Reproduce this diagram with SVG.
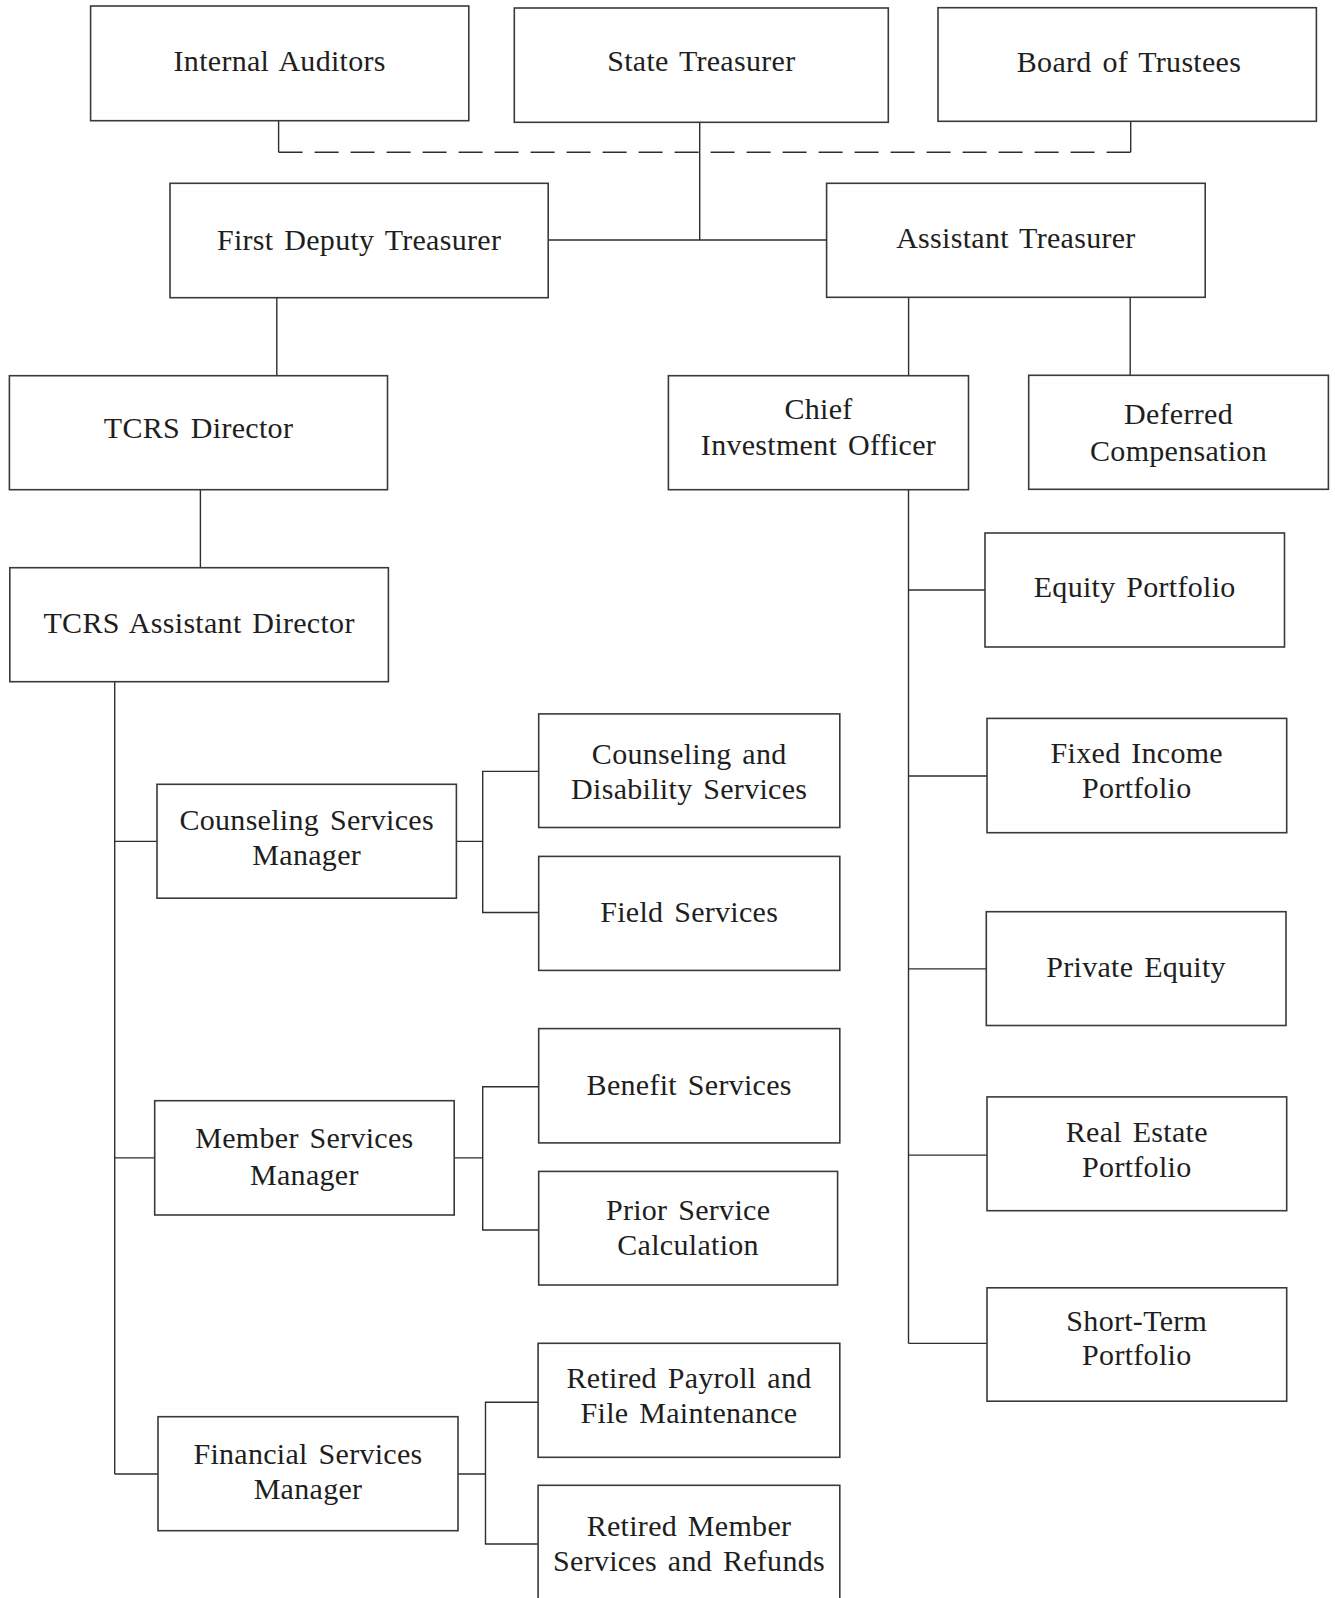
<svg xmlns="http://www.w3.org/2000/svg" width="1335" height="1598" viewBox="0 0 1335 1598">
<style>
.box{fill:#fff;stroke:#3a3a3a;stroke-width:1.6}
.lbl{font-family:"Liberation Serif",serif;font-size:30px;fill:#1e1e1e;text-anchor:middle;letter-spacing:0.3px;word-spacing:3px}
.con{fill:none;stroke:#2e2e2e;stroke-width:1.4}
.dash{fill:none;stroke:#2e2e2e;stroke-width:1.4;stroke-dasharray:24 12}
</style>
<rect width="1335" height="1598" fill="#fff"/>
<g id="connectors">
<path class="con" d="M278.6 120.7V152.3M1130.7 121.3V152.3"/>
<path class="dash" d="M278.6 152.3H1130.7"/>
<path class="con" d="M699.7 122.3V240M548.2 240H826.6"/>
<path class="con" d="M276.8 297.7V375.7M908.6 297.3V375.7M1130.2 297.3V375.3M200.4 489.7V567.7"/>
<path class="con" d="M908.5 489.7V1343.4M908.5 590H985M908.5 776H987M908.5 968.9H986.3M908.5 1155.1H987M908.5 1343.4H987"/>
<path class="con" d="M114.7 681.7V1474M114.7 841.4H157M114.7 1157.9H154.7M114.7 1474H158"/>
<path class="con" d="M456.4 841.4H482.7M538.7 771.4H482.7V912.5H538.7"/>
<path class="con" d="M454.2 1157.9H482.7M538.7 1086.8H482.7V1230H538.7"/>
<path class="con" d="M458 1474H485.5M538.1 1402.3H485.5V1544H538.1"/>
</g>
<g id="internal-auditors"><rect class="box" x="90.6" y="6" width="378.2" height="114.7"/><text class="lbl" x="279.7" y="70.7">Internal Auditors</text></g>
<g id="state-treasurer"><rect class="box" x="514.3" y="8" width="374" height="114.3"/><text class="lbl" x="701.3" y="70.7">State Treasurer</text></g>
<g id="board-of-trustees"><rect class="box" x="938" y="7.7" width="378.4" height="113.6"/><text class="lbl" x="1129" y="71.7">Board of Trustees</text></g>
<g id="first-deputy-treasurer"><rect class="box" x="170" y="183.3" width="378.2" height="114.4"/><text class="lbl" x="359.1" y="250">First Deputy Treasurer</text></g>
<g id="assistant-treasurer"><rect class="box" x="826.6" y="183.3" width="378.6" height="114"/><text class="lbl" x="1015.9" y="248.3">Assistant Treasurer</text></g>
<g id="tcrs-director"><rect class="box" x="9.4" y="375.7" width="378.1" height="114"/><text class="lbl" x="198.5" y="438.3">TCRS Director</text></g>
<g id="chief-investment-officer"><rect class="box" x="668.4" y="375.7" width="300.1" height="114"/><text class="lbl" x="818.5" y="419.3">Chief</text><text class="lbl" x="818.5" y="455">Investment Officer</text></g>
<g id="deferred-compensation"><rect class="box" x="1028.7" y="375.3" width="299.7" height="114"/><text class="lbl" x="1178.5" y="424.3">Deferred</text><text class="lbl" x="1178.5" y="460.7">Compensation</text></g>
<g id="tcrs-assistant-director"><rect class="box" x="9.8" y="567.7" width="378.6" height="114"/><text class="lbl" x="199.1" y="632.7">TCRS Assistant Director</text></g>
<g id="equity-portfolio"><rect class="box" x="985" y="533" width="299.5" height="114"/><text class="lbl" x="1134.7" y="596.7">Equity Portfolio</text></g>
<g id="fixed-income-portfolio"><rect class="box" x="987" y="718.4" width="299.7" height="114.3"/><text class="lbl" x="1136.8" y="763.3">Fixed Income</text><text class="lbl" x="1136.8" y="798">Portfolio</text></g>
<g id="private-equity"><rect class="box" x="986.3" y="911.7" width="299.7" height="113.8"/><text class="lbl" x="1136.1" y="976.5">Private Equity</text></g>
<g id="real-estate-portfolio"><rect class="box" x="987" y="1096.9" width="299.7" height="113.8"/><text class="lbl" x="1136.8" y="1142.3">Real Estate</text><text class="lbl" x="1136.8" y="1177">Portfolio</text></g>
<g id="short-term-portfolio"><rect class="box" x="987" y="1287.8" width="299.7" height="113.4"/><text class="lbl" x="1136.8" y="1331">Short-Term</text><text class="lbl" x="1136.8" y="1365.3">Portfolio</text></g>
<g id="counseling-services-manager"><rect class="box" x="157" y="784.3" width="299.4" height="113.9"/><text class="lbl" x="306.7" y="830.4">Counseling Services</text><text class="lbl" x="306.7" y="865">Manager</text></g>
<g id="counseling-disability-services"><rect class="box" x="538.7" y="713.9" width="301.1" height="113.6"/><text class="lbl" x="689.2" y="764.3">Counseling and</text><text class="lbl" x="689.2" y="798.9">Disability Services</text></g>
<g id="field-services"><rect class="box" x="538.7" y="856.4" width="301.1" height="114"/><text class="lbl" x="689.2" y="922.1">Field Services</text></g>
<g id="member-services-manager"><rect class="box" x="154.7" y="1100.7" width="299.5" height="114.3"/><text class="lbl" x="304.4" y="1148.2">Member Services</text><text class="lbl" x="304.4" y="1185">Manager</text></g>
<g id="benefit-services"><rect class="box" x="538.7" y="1028.6" width="301.1" height="114.3"/><text class="lbl" x="689.2" y="1094.6">Benefit Services</text></g>
<g id="prior-service-calculation"><rect class="box" x="538.7" y="1171.4" width="298.9" height="113.6"/><text class="lbl" x="688.1" y="1219.6">Prior Service</text><text class="lbl" x="688.1" y="1255.4">Calculation</text></g>
<g id="financial-services-manager"><rect class="box" x="158" y="1416.7" width="300" height="114"/><text class="lbl" x="308" y="1464.3">Financial Services</text><text class="lbl" x="308" y="1499.3">Manager</text></g>
<g id="retired-payroll"><rect class="box" x="538.1" y="1343.3" width="301.7" height="114"/><text class="lbl" x="689" y="1388.3">Retired Payroll and</text><text class="lbl" x="689" y="1423.3">File Maintenance</text></g>
<g id="retired-member-services"><rect class="box" x="538.1" y="1485.3" width="301.7" height="130"/><text class="lbl" x="689" y="1536">Retired Member</text><text class="lbl" x="689" y="1571">Services and Refunds</text></g>
</svg>
